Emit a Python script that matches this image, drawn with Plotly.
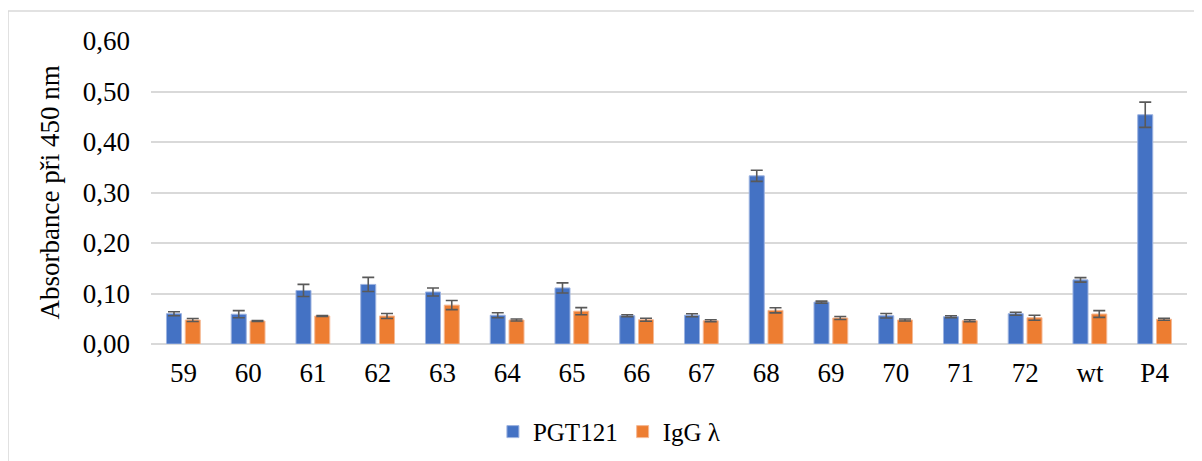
import plotly.graph_objects as go

categories = ["59", "60", "61", "62", "63", "64", "65", "66", "67", "68", "69", "70", "71", "72", "wt", "P4"]
pgt121 = [0.060, 0.059, 0.106, 0.118, 0.103, 0.057, 0.111, 0.056, 0.057, 0.333, 0.083, 0.056, 0.054, 0.060, 0.127, 0.454]
pgt121_err = [0.004, 0.007, 0.012, 0.014, 0.008, 0.005, 0.010, 0.002, 0.003, 0.011, 0.002, 0.0045, 0.002, 0.003, 0.0045, 0.025]
igg = [0.0475, 0.0455, 0.0555, 0.0555, 0.077, 0.0475, 0.065, 0.048, 0.046, 0.0667, 0.0515, 0.0475, 0.046, 0.052, 0.0594, 0.049]
igg_err = [0.003, 0.001, 0.001, 0.005, 0.009, 0.002, 0.007, 0.003, 0.002, 0.005, 0.003, 0.002, 0.002, 0.005, 0.0066, 0.002]

FONT = "Times New Roman, Liberation Serif, serif"
err_style = dict(type="data", visible=True, color="#595959", thickness=1.6, width=6)

fig = go.Figure()
fig.add_trace(go.Bar(
    name="PGT121", x=categories, y=pgt121,
    marker=dict(color="#4472C4", line=dict(color="#9DB3E0", width=1)),
    error_y=dict(array=pgt121_err, **err_style),
))
fig.add_trace(go.Bar(
    name="IgG λ", x=categories, y=igg,
    marker=dict(color="#ED7D31", line=dict(color="#F5B995", width=1)),
    error_y=dict(array=igg_err, **err_style),
))

fig.update_layout(
    width=1194, height=453,
    margin=dict(l=143, r=15, t=33, b=117, autoexpand=False),
    paper_bgcolor="white", plot_bgcolor="white",
    barmode="group", bargap=0.42, bargroupgap=0.2,
    separators=", ",
    font=dict(family=FONT, size=26, color="black"),
    showlegend=True,
    legend=dict(orientation="h", x=0.442, y=-0.29, xanchor="center", yanchor="middle",
                font=dict(family=FONT, size=25, color="black"), itemwidth=30,
                bgcolor="rgba(0,0,0,0)"),
    xaxis=dict(showgrid=False, showline=False, ticks="", ticklabelstandoff=10,
               automargin=False,
               tickfont=dict(family=FONT, size=27, color="black")),
    yaxis=dict(range=[0, 0.6], dtick=0.1, tick0=0, tickformat=".2f",
               showgrid=True, gridcolor="#D9D9D9", gridwidth=1.5,
               zeroline=True, zerolinecolor="#D9D9D9", zerolinewidth=2,
               showline=False, ticks="", ticklabelstandoff=20, automargin=False,
               tickfont=dict(family=FONT, size=27, color="black")),
    annotations=[dict(text="Absorbance při 450 nm", xref="paper", yref="paper",
                      x=-0.0975, y=0.5, xanchor="center", yanchor="middle",
                      textangle=-90, showarrow=False,
                      font=dict(family=FONT, size=27, color="black"))],
    shapes=[dict(type="rect", xref="paper", yref="paper",
                 x0=-0.138, x1=1.2, y0=-1.0, y1=1.099,
                 line=dict(color="#D9D9D9", width=1.5), layer="below")],
)

fig.write_html("out.html")
